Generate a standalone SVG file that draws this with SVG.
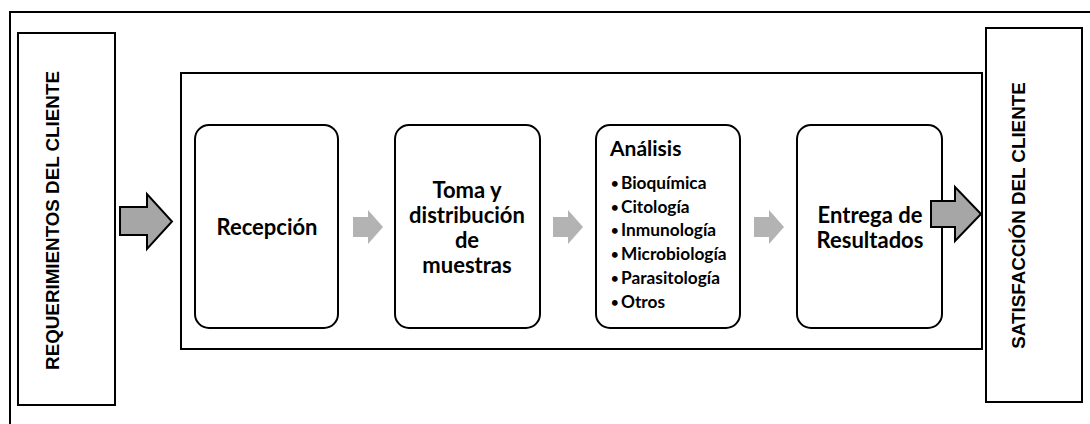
<svg xmlns="http://www.w3.org/2000/svg" width="1090" height="424" viewBox="0 0 1090 424">
<style>
.frame{fill:none;stroke:#000;stroke-width:2}
.side{fill:#fff;stroke:#000;stroke-width:2}
.box{fill:#fff;stroke:#000;stroke-width:2}
.vt{font-family:"Liberation Sans",Arial,sans-serif;font-weight:bold;font-size:18.8px;fill:#000;text-anchor:middle}
.bt{font-family:Lato,"Open Sans",sans-serif;font-weight:bold;font-size:22px;fill:#000;text-anchor:middle}
.tt{font-family:Lato,"Open Sans",sans-serif;font-weight:bold;font-size:21px;fill:#000}
.li{font-family:Lato,"Open Sans",sans-serif;font-weight:bold;font-size:17.3px;fill:#000}
.bu{font-family:Lato,"Open Sans",sans-serif;font-weight:bold;font-size:13px;fill:#000}
.la{fill:#b3b3b3;stroke:none}
.ba{fill:#a6a6a6;stroke:#000;stroke-width:2;stroke-linejoin:miter}
</style>
<rect width="1090" height="424" fill="#fff"/>
<rect class="frame" x="10" y="12" width="1100" height="430"/>
<g id="requerimientos">
<rect class="side" x="18" y="33" width="97" height="372"/>
<text class="vt" transform="translate(59,220.5) rotate(-90)">REQUERIMIENTOS DEL CLIENTE</text>
</g>
<g id="proceso">
<rect class="frame" x="181" y="73" width="801" height="276"/>
</g>
<g id="recepcion">
<rect class="box" x="195" y="125" width="143" height="203" rx="14"/>
<text class="bt" x="267" y="235">Recepción</text>
</g>
<g id="toma">
<rect class="box" x="395" y="125" width="145" height="203" rx="14"/>
<text class="bt" x="467" y="198">Toma y</text>
<text class="bt" x="467" y="223">distribución</text>
<text class="bt" x="467" y="248">de</text>
<text class="bt" x="467" y="273">muestras</text>
</g>
<g id="analisis">
<rect class="box" x="596" y="125" width="144" height="203" rx="14"/>
<text class="tt" x="610" y="156">Análisis</text>
<g class="bu">
<text x="611" y="188">•</text>
<text x="611" y="212">•</text>
<text x="611" y="235">•</text>
<text x="611" y="259">•</text>
<text x="611" y="283">•</text>
<text x="611" y="307">•</text>
</g>
<g class="li">
<text x="621" y="189">Bioquímica</text>
<text x="621" y="213">Citología</text>
<text x="621" y="236">Inmunología</text>
<text x="621" y="260">Microbiología</text>
<text x="621" y="284">Parasitología</text>
<text x="621" y="308">Otros</text>
</g>
</g>
<g id="entrega">
<rect class="box" x="797" y="125" width="145" height="203" rx="14"/>
<text class="bt" x="870" y="223">Entrega de</text>
<text class="bt" x="870" y="248">Resultados</text>
</g>
<g id="satisfaccion">
<rect class="side" x="986" y="28" width="96" height="374"/>
<text class="vt" transform="translate(1025,215.5) rotate(-90)">SATISFACCIÓN DEL CLIENTE</text>
</g>
<g id="connectors">
<path class="la" d="M353,217 H368 V210 L383,227 L368,244 V237 H353 Z"/>
<path class="la" d="M553,217 H568 V210 L583,227 L568,244 V237 H553 Z"/>
<path class="la" d="M754,217 H769 V210 L784,227 L769,244 V237 H754 Z"/>
<path class="ba" d="M120,207 H147 V194 L172,221.5 L147,249 V235 H120 Z"/>
<path class="ba" d="M931,201 H955 V187 L981,214 L955,241 V227 H931 Z"/>
</g>
</svg>
